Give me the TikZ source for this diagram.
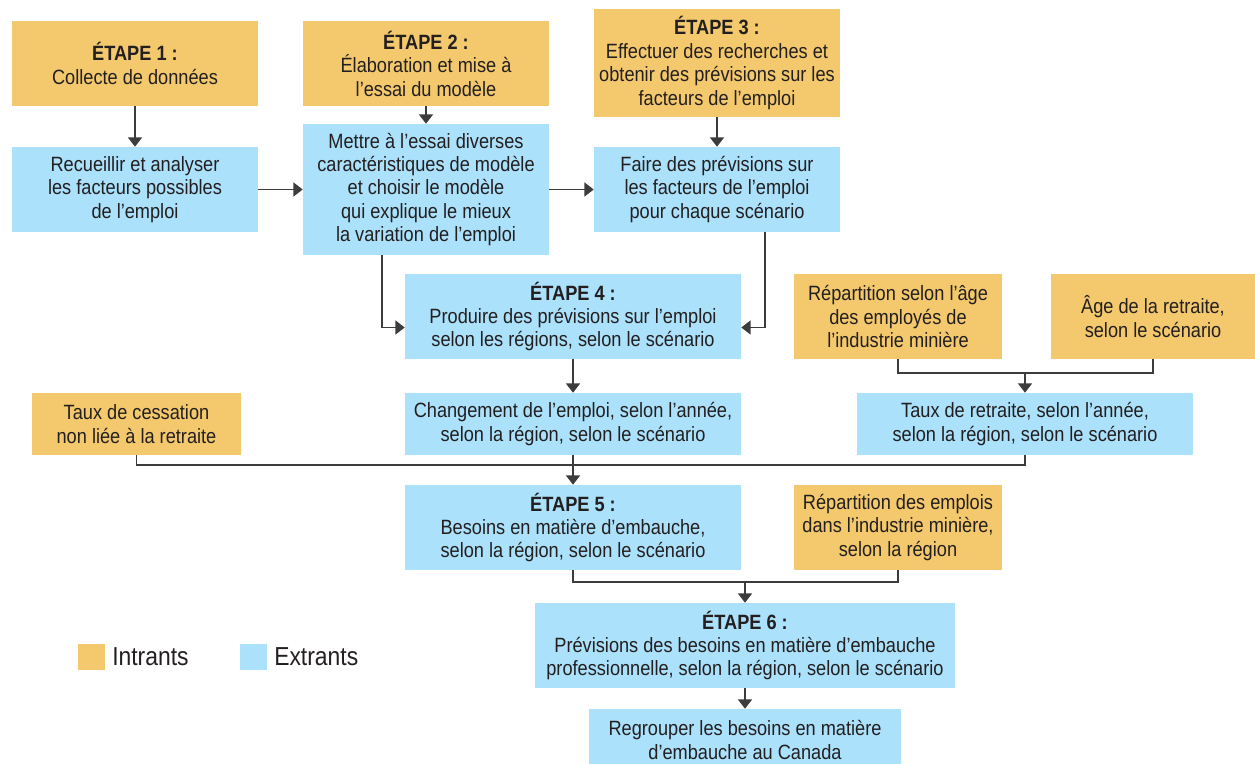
\documentclass[tikz,border=0pt]{standalone}
\usepackage{xcolor}
\usepackage{fontspec}
\setmainfont{Liberation Sans}[FakeStretch=0.88]
\usepackage{tikz}
\usetikzlibrary{arrows.meta, calc}

\definecolor{inputcol}{HTML}{F4C96E}
\definecolor{outputcol}{HTML}{ABE1FA}
\definecolor{linecol}{HTML}{3C3C3C}
\definecolor{textcol}{HTML}{231F20}

\begin{document}
\begin{tikzpicture}[
		x=0.75pt, y=-0.75pt,
		every node/.style={text=textcol, align=center, inner sep=0pt,
			font=\fontsize{15.5}{17.6}\selectfont},
		input/.style={fill=inputcol},
		output/.style={fill=outputcol},
		narrow/.style={minimum width=184.5pt, minimum height=63.75pt},
		wide/.style={minimum width=252pt, minimum height=63.75pt},
		flat/.style={minimum width=252pt, minimum height=46.5pt},
		line/.style={draw=linecol, line width=1pt},
		link/.style={line, -{Triangle[width=10.5pt, length=7pt]}},
		legend text/.style={anchor=west, font=\fontsize{19.5}{22}\selectfont}
		]

	\useasboundingbox (0, 0) rectangle (1255, 763);
	\clip (0, 0) rectangle (1255, 763);

	% Step 1
	\node[input, narrow] (e1) at (135, 63.5) {\textbf{ÉTAPE 1 :}\\Collecte de données};
	\node[output, narrow] (rec) at (135, 189.5) {Recueillir et analyser\\les facteurs possibles\\de l’emploi};

	% Step 2
	\node[input, narrow] (e2) at (426, 63.5) {\textbf{ÉTAPE 2 :}\\Élaboration et mise à\\l’essai du modèle};
	\node[output, narrow, minimum height=98.25pt] (mettre) at (426, 189.5) {Mettre à l’essai diverses\\caractéristiques de modèle\\et choisir le modèle\\qui explique le mieux\\la variation de l’emploi};

	% Step 3
	\node[input, narrow, minimum height=81pt] (e3) at (717, 63) {\textbf{ÉTAPE 3 :}\\Effectuer des recherches et\\obtenir des prévisions sur les\\facteurs de l’emploi};
	\node[output, narrow] (faire) at (717, 189.5) {Faire des prévisions sur\\les facteurs de l’emploi\\pour chaque scénario};

	% Step 4
	\node[output, wide] (e4) at (573, 316.5) {\textbf{ÉTAPE 4 :}\\Produire des prévisions sur l’emploi\\selon les régions, selon le scénario};
	\node[output, flat] (chg) at (573, 424) {Changement de l’emploi, selon l’année,\\selon la région, selon le scénario};

	% Retirement
	\node[input, minimum width=156pt, minimum height=63.75pt] (agerep) at (898, 316.5) {Répartition selon l’âge\\des employés de\\l’industrie minière};
	\node[input, minimum width=153pt, minimum height=63.75pt] (ageret) at (1153, 316.5) {Âge de la retraite,\\selon le scénario};
	\node[output, flat] (tret) at (1025, 424) {Taux de retraite, selon l’année,\\selon la région, selon le scénario};
	\node[input, minimum width=156.75pt, minimum height=46.5pt] (cess) at (136.5, 424) {Taux de cessation\\non liée à la retraite};

	% Step 5
	\node[output, wide] (e5) at (573, 527.5) {\textbf{ÉTAPE 5 :}\\Besoins en matière d’embauche,\\selon la région, selon le scénario};
	\node[input, minimum width=156pt, minimum height=63.75pt] (emploi) at (898, 527.5) {Répartition des emplois\\dans l’industrie minière,\\selon la région};

	% Step 6
	\node[output, minimum width=315pt, minimum height=63.75pt] (e6) at (745, 645.5) {\textbf{ÉTAPE 6 :}\\Prévisions des besoins en matière d’embauche\\professionnelle, selon la région, selon le scénario};
	\node[output, minimum width=234pt, minimum height=46.5pt] (reg) at (745, 740) {Regrouper les besoins en matière\\d’embauche au Canada};

	% Legend
	\node[input, minimum width=20.25pt, minimum height=19.5pt] (keyin) at (91.5, 657) {};
	\node[legend text] (keyintxt) at (112, 657) {Intrants};
	\node[output, minimum width=20.25pt, minimum height=19.5pt] (keyout) at (253.5, 657) {};
	\node[legend text] (keyouttxt) at (274, 657) {Extrants};

	% Junctions
	\coordinate (j4) at (1025, 373);
	\coordinate (j5) at (573, 465);
	\coordinate (j6) at (745, 582);

	% Arrows, top rows
	\draw[link] (e1) -- (rec);
	\draw[link] (e2) -- (mettre);
	\draw[link] (e3) -- (faire);
	\draw[link] (rec) -- (mettre);
	\draw[link] (mettre) -- (faire);
	\draw[link] ($(mettre.south)+(-44, 0)$) |- ($(e4.west)+(0, 11)$);
	\draw[link] ($(faire.south)+(48, 0)$) |- ($(e4.east)+(0, 11)$);
	\draw[link] (e4) -- (chg);

	% Merging lines
	\draw[line] (agerep) |- (j4);
	\draw[line] (ageret) |- (j4);
	\draw[link] (j4) -- (tret);
	\draw[line] (cess) |- (j5);
	\draw[line] (tret) |- (j5);
	\draw[line] (chg) -- (j5);
	\draw[link] (j5) -- (e5);
	\draw[line] (e5) |- (j6);
	\draw[line] (emploi) |- (j6);
	\draw[link] (j6) -- (e6);
	\draw[link] (e6) -- (reg);

\end{tikzpicture}
\end{document}
